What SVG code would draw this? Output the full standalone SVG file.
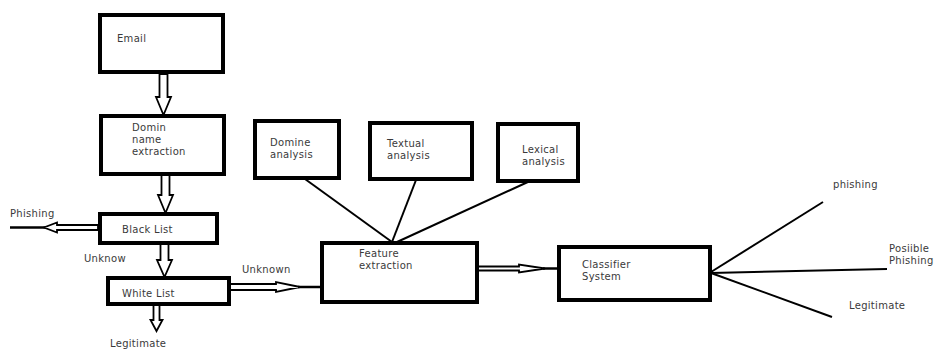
<svg xmlns="http://www.w3.org/2000/svg" width="939" height="349" viewBox="0 0 939 349">
<style>
.box{fill:#fff;stroke:#000;stroke-width:4}
.t{font-family:"DejaVu Sans","Liberation Sans",sans-serif;font-size:10px;letter-spacing:0.3px;fill:#3a3a3a}
.ba{fill:#fff;stroke:#000;stroke-width:1.8;stroke-linejoin:miter}
.ln{stroke:#000;stroke-width:2;fill:none}
.tl{stroke:#000;stroke-width:2.5;fill:none}
</style>
<rect width="939" height="349" fill="#fff"/>
<g id="connectors">
<polygon class="ba" points="159.5,74 167.5,74 167.5,97 171,97 163.5,115 156,97 159.5,97"/>
<polygon class="ba" points="161.5,175 169.5,175 169.5,195 173,195 165.5,213 158,195 161.5,195"/>
<polygon class="ba" points="160.5,244 168.5,244 168.5,260 172,260 164.5,277 157,260 160.5,260"/>
<polygon class="ba" points="153.5,305 159.5,305 159.5,320 162.5,320 156.5,331 150.5,320 153.5,320"/>
<line class="tl" x1="10" y1="227.5" x2="45" y2="227.5"/>
<polygon class="ba" points="98,225 57,225 57,222.5 44,227.5 57,232.5 57,230 98,230"/>
<polygon class="ba" points="230,284 276,284 276,282 300,287 276,292 276,290 230,290"/>
<line class="tl" x1="298" y1="287" x2="320" y2="287"/>
<polygon class="ba" points="478,266.5 519,266.5 519,264.5 545,268.5 519,272.5 519,270.5 478,270.5"/>
<line class="tl" x1="543" y1="268.5" x2="558" y2="268.5"/>
<line class="ln" x1="305" y1="179" x2="392" y2="242"/>
<line class="ln" x1="416" y1="180" x2="392" y2="242"/>
<line class="ln" x1="530" y1="181" x2="397" y2="242"/>
<line class="ln" x1="711" y1="272" x2="823" y2="202"/>
<line class="ln" x1="711" y1="273" x2="887" y2="269"/>
<line class="ln" x1="711" y1="273" x2="832" y2="317"/>
</g>
<g id="email"><rect class="box" x="100" y="15" width="123" height="57"/><text class="t" x="117" y="42">Email</text></g>
<g id="domin"><rect class="box" x="101" y="116" width="123" height="58"/><text class="t" x="132" y="131">Domin</text><text class="t" x="132" y="143">name</text><text class="t" x="132" y="155">extraction</text></g>
<g id="blacklist"><rect class="box" x="100" y="214" width="117" height="29"/><text class="t" x="122" y="233">Black List</text></g>
<g id="whitelist"><rect class="box" x="108" y="278" width="121" height="26"/><text class="t" x="122" y="297">White List</text></g>
<g id="feature"><rect class="box" x="322" y="243" width="155" height="59"/><text class="t" x="359" y="257">Feature</text><text class="t" x="359" y="269">extraction</text></g>
<g id="domine"><rect class="box" x="255" y="121" width="84" height="57"/><text class="t" x="270" y="146">Domine</text><text class="t" x="270" y="158">analysis</text></g>
<g id="textual"><rect class="box" x="370" y="123" width="102" height="56"/><text class="t" x="387" y="147">Textual</text><text class="t" x="387" y="159">analysis</text></g>
<g id="lexical"><rect class="box" x="498" y="124" width="80" height="57"/><text class="t" x="522" y="153">Lexical</text><text class="t" x="522" y="165">analysis</text></g>
<g id="classifier"><rect class="box" x="559" y="247" width="151" height="53"/><text class="t" x="582" y="268">Classifier</text><text class="t" x="582" y="280">System</text></g>
<g id="labels">
<text class="t" x="10" y="217">Phishing</text>
<text class="t" x="84" y="262">Unknow</text>
<text class="t" x="242" y="273">Unknown</text>
<text class="t" x="110" y="347">Legitimate</text>
<text class="t" x="833" y="188">phishing</text>
<text class="t" x="889" y="252">Posiible</text>
<text class="t" x="889" y="264">Phishing</text>
<text class="t" x="849" y="309">Legitimate</text>
</g>
</svg>
